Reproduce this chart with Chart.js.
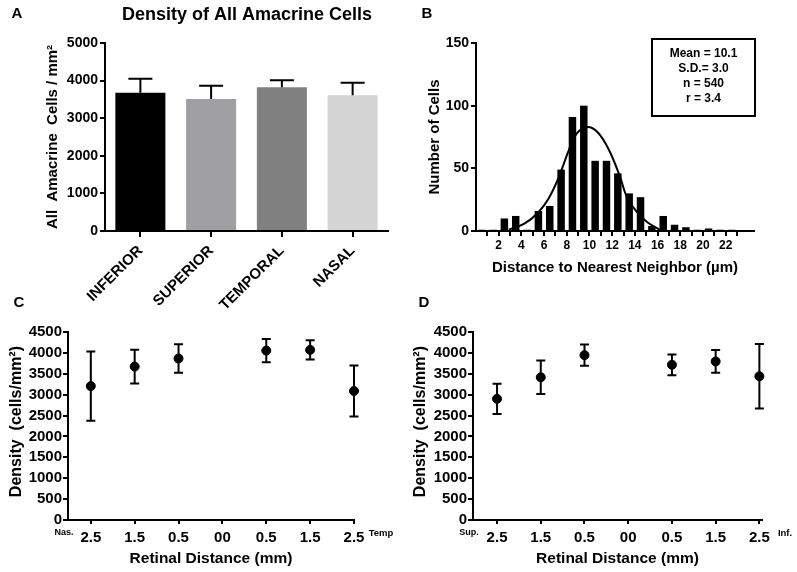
<!DOCTYPE html>
<html>
<head>
<meta charset="utf-8">
<script src="https://cdn.jsdelivr.net/npm/chart.js@4.4.1/dist/chart.umd.min.js"></script>
<style>
  body { margin: 0; background: #fff; }
  #wrap { position: relative; width: 797px; height: 572px; overflow: hidden; background: #fff; }
  canvas { position: absolute; }
</style>
</head>
<body>
<div id="wrap">
  <canvas id="chartA" style="left:0px;top:0px;" width="400" height="310"></canvas>
  <canvas id="chartB" style="left:400px;top:0px;" width="397" height="290"></canvas>
  <canvas id="chartC" style="left:0px;top:290px;" width="400" height="282"></canvas>
  <canvas id="chartD" style="left:400px;top:290px;" width="397" height="282"></canvas>
</div>
<script>
// panel A - density by retinal region (mean + upward error)
var regions = ['INFERIOR', 'SUPERIOR', 'TEMPORAL', 'NASAL'];
var regionDensity = [3680, 3510, 3820, 3610];
var regionError = [370, 355, 190, 330];
var regionColors = ['#000000', '#a0a0a4', '#808080', '#d4d4d4'];

// panel B - nearest neighbour histogram (1 um bins) + fitted curve
var nnBinCenters = [0.5, 1.5, 2.5, 3.5, 4.5, 5.5, 6.5, 7.5, 8.5, 9.5, 10.5, 11.5,
                    12.5, 13.5, 14.5, 15.5, 16.5, 17.5, 18.5, 19.5, 20.5, 21.5, 22.5];
var nnCounts = [1, 1, 10, 12, 1, 16, 20, 49, 91, 100, 56, 56, 46, 30, 27, 4, 12, 5, 3, 1, 2, 1, 1];
var fitX = [2.9, 4.3, 5.5, 6.4, 7.3, 8.2, 8.9, 9.8, 10.7, 11.7, 12.7, 13.3, 14.2, 15.1, 16.2];
var fitY = [1, 6, 15, 26, 43, 65, 78, 83, 79, 65, 43, 27, 15, 7, 1];
var nnTicks = [1, 2, 3, 4, 5, 6, 7, 8, 9, 10, 11, 12, 13, 14, 15, 16, 17, 18, 19, 20, 21, 22, 23];
var statLines = ['Mean = 10.1', 'S.D.= 3.0', 'n = 540', 'r = 3.4'];

// panels C and D - density along retinal distance
var distLabels = ['2.5', '1.5', '0.5', '00', '0.5', '1.5', '2.5'];
var nasTempMean = [3205, 3672, 3865, null, 4055, 4072, 3088];
var nasTempSD = [830, 405, 340, null, 280, 228, 608];
var supInfMean = [2900, 3416, 3946, null, 3715, 3795, 3440];
var supInfSD = [360, 403, 255, null, 248, 272, 772];
var densityTicks = [0, 500, 1000, 1500, 2000, 2500, 3000, 3500, 4000, 4500];

Chart.defaults.font.family = "'Liberation Sans', Arial, sans-serif";
Chart.defaults.font.weight = 'bold';
Chart.defaults.color = '#000';
Chart.defaults.animation = false;
Chart.defaults.plugins.legend.display = false;
Chart.defaults.plugins.tooltip.enabled = false;

var FONT = "'Liberation Sans', Arial, sans-serif";

// draws error bars for datasets that carry an "errors" array
var errorBarPlugin = {
  id: 'errorBars',
  afterDatasetsDraw: function(chart) {
    var ctx = chart.ctx;
    var yScale = chart.scales.y;
    chart.data.datasets.forEach(function(ds, i) {
      if (!ds.errors) return;
      var meta = chart.getDatasetMeta(i);
      meta.data.forEach(function(el, j) {
        var v = meta.controller.getParsed(j).y;
        var e = ds.errors[j];
        var top = yScale.getPixelForValue(v + e);
        var bottom = ds.errorBoth ? yScale.getPixelForValue(v - e) : yScale.getPixelForValue(v);
        var half = ds.capWidth / 2;
        ctx.save();
        ctx.strokeStyle = '#000';
        ctx.lineWidth = 2;
        ctx.beginPath();
        ctx.moveTo(el.x, top);
        ctx.lineTo(el.x, bottom);
        ctx.moveTo(el.x - half, top);
        ctx.lineTo(el.x + half, top);
        if (ds.errorBoth) {
          ctx.moveTo(el.x - half, bottom);
          ctx.lineTo(el.x + half, bottom);
        }
        ctx.stroke();
        ctx.restore();
      });
    });
  }
};

// free text (panel letters, titles, side labels) and the stats box
var notesPlugin = {
  id: 'notes',
  afterDraw: function(chart, args, opts) {
    var ctx = chart.ctx;
    (opts.items || []).forEach(function(it) {
      ctx.save();
      ctx.font = 'bold ' + it.size + 'px ' + FONT;
      ctx.fillStyle = '#000';
      ctx.textAlign = it.align || 'center';
      ctx.textBaseline = 'middle';
      ctx.fillText(it.text, it.x, it.y);
      ctx.restore();
    });
    if (opts.box) {
      var b = opts.box;
      ctx.save();
      ctx.strokeStyle = '#000';
      ctx.lineWidth = 2;
      ctx.strokeRect(b.x, b.y, b.w, b.h);
      ctx.font = 'bold ' + b.size + 'px ' + FONT;
      ctx.fillStyle = '#000';
      ctx.textAlign = 'center';
      ctx.textBaseline = 'middle';
      b.lines.forEach(function(t, k) {
        ctx.fillText(t, b.x + b.w / 2, b.y + 15 + k * 15);
      });
      ctx.restore();
    }
  }
};

function axisGrid(len) {
  return { drawOnChartArea: false, drawTicks: true, tickLength: len, color: '#000', lineWidth: 2, offset: false };
}
var axisBorder = { color: '#000', width: 2 };

// ---------- A ----------
new Chart(document.getElementById('chartA'), {
  type: 'bar',
  data: {
    labels: regions,
    datasets: [{
      data: regionDensity,
      backgroundColor: regionColors,
      borderWidth: 0,
      categoryPercentage: 1,
      barPercentage: 0.707,
      errors: regionError,
      errorBoth: false,
      capWidth: 24
    }]
  },
  plugins: [errorBarPlugin, notesPlugin],
  options: {
    responsive: false,
    layout: { padding: { top: 43, right: 12, left: 0, bottom: 0 } },
    scales: {
      x: {
        offset: true,
        grid: axisGrid(6),
        border: axisBorder,
        ticks: { font: { size: 15 }, maxRotation: 45, minRotation: 45, padding: 5 },
        afterFit: function(s) { s.height = 79; }
      },
      y: {
        min: 0, max: 5000,
        grid: axisGrid(5),
        border: axisBorder,
        ticks: { stepSize: 1000, font: { size: 14 }, padding: 2, callback: function(v) { return String(v); } },
        title: { display: true, text: 'All  Amacrine  Cells / mm\u00b2', font: { size: 15 }, padding: { top: 44, bottom: 0 } },
        afterFit: function(s) { s.width = 105; }
      }
    },
    plugins: {
      notes: {
        items: [
          { text: 'A', x: 17, y: 14, size: 15 },
          { text: 'Density of All Amacrine Cells', x: 247, y: 15, size: 18 }
        ]
      }
    }
  }
});

// ---------- B ----------
new Chart(document.getElementById('chartB'), {
  type: 'bar',
  data: {
    datasets: [{
      type: 'bar',
      data: nnBinCenters.map(function(x, i) { return { x: x, y: nnCounts[i] }; }),
      backgroundColor: '#000',
      borderWidth: 0,
      categoryPercentage: 1,
      barPercentage: 0.66
    }, {
      type: 'line',
      data: fitX.map(function(x, i) { return { x: x, y: fitY[i] }; }),
      borderColor: '#000',
      borderWidth: 2,
      pointRadius: 0,
      tension: 0.4,
      fill: false
    }]
  },
  plugins: [notesPlugin],
  options: {
    responsive: false,
    layout: { padding: { top: 43, right: 43, left: 0, bottom: 0 } },
    scales: {
      x: {
        type: 'linear',
        min: 0, max: 24.5,
        offset: false,
        grid: axisGrid(5),
        border: axisBorder,
        afterBuildTicks: function(s) { s.ticks = nnTicks.map(function(v) { return { value: v }; }); },
        ticks: {
          autoSkip: false, maxRotation: 0, font: { size: 12 }, padding: 2,
          callback: function(v) { return v % 2 === 0 ? String(v) : ''; }
        },
        title: { display: true, text: 'Distance to Nearest Neighbor (\u00b5m)', font: { size: 15 }, padding: { top: 0, bottom: 13 } },
        afterFit: function(s) { s.height = 59; }
      },
      y: {
        min: 0, max: 150,
        grid: axisGrid(5),
        border: axisBorder,
        ticks: { stepSize: 50, font: { size: 14 }, padding: 2, callback: function(v) { return String(v); } },
        title: { display: true, text: 'Number of Cells', font: { size: 15 }, padding: { top: 26, bottom: 0 } },
        afterFit: function(s) { s.width = 76; }
      }
    },
    plugins: {
      notes: {
        items: [{ text: 'B', x: 27, y: 14, size: 15 }],
        box: { x: 252, y: 39, w: 103, h: 77, size: 12, lines: statLines }
      }
    }
  }
});

// ---------- C / D ----------
function densityChart(id, means, sds, yTitlePad, yWidth, padRight, xMin, xMax, letter, letterX, leftWord, rightWord) {
  var pts = [], errs = [];
  means.forEach(function(m, i) {
    if (m === null) return;
    pts.push({ x: i, y: m });
    errs.push(sds[i]);
  });
  return new Chart(document.getElementById(id), {
    type: 'scatter',
    data: {
      datasets: [{
        data: pts,
        backgroundColor: '#000',
        borderColor: '#000',
        pointRadius: 4.5,
        pointHoverRadius: 4.5,
        clip: false,
        errors: errs,
        errorBoth: true,
        capWidth: 9
      }]
    },
    plugins: [errorBarPlugin, notesPlugin],
    options: {
      responsive: false,
      layout: { padding: { top: 42, right: padRight, left: 0, bottom: 0 } },
      scales: {
        x: {
          type: 'linear',
          min: xMin, max: xMax,
          grid: axisGrid(4),
          border: axisBorder,
          afterBuildTicks: function(s) { s.ticks = distLabels.map(function(l, i) { return { value: i }; }); },
          ticks: {
            autoSkip: false, maxRotation: 0, font: { size: 15 }, padding: 5,
            callback: function(v) { return distLabels[v]; }
          },
          title: { display: true, text: 'Retinal Distance (mm)', font: { size: 15.5 }, padding: { top: 0, bottom: 4 } },
          afterFit: function(s) { s.height = 52; }
        },
        y: {
          min: 0, max: 4500,
          grid: axisGrid(5),
          border: axisBorder,
          afterBuildTicks: function(s) { s.ticks = densityTicks.map(function(v) { return { value: v }; }); },
          ticks: { autoSkip: false, font: { size: 15 }, padding: 1, callback: function(v) { return String(v); } },
          title: { display: true, text: '  Density  (cells/mm\u00b2)', font: { size: 16 }, padding: { top: yTitlePad, bottom: 0 } },
          afterFit: function(s) { s.width = yWidth; }
        }
      },
      plugins: {
        notes: {
          items: [
            { text: letter, x: letterX, y: 12.5, size: 15 },
            { text: leftWord.text, x: leftWord.x, y: 243, size: 9 },
            { text: rightWord.text, x: rightWord.x, y: 243, size: 9.5 }
          ]
        }
      }
    }
  });
}

densityChart('chartC', nasTempMean, nasTempSD, 7, 68, 46, -0.52, 6, 'C', 19,
  { text: 'Nas.', x: 64 }, { text: 'Temp', x: 381 });
densityChart('chartD', supInfMean, supInfSD, 11, 73, 35, -0.55, 6.06, 'D', 24,
  { text: 'Sup.', x: 69 }, { text: 'Inf.', x: 385 });
</script>
</body>
</html>
